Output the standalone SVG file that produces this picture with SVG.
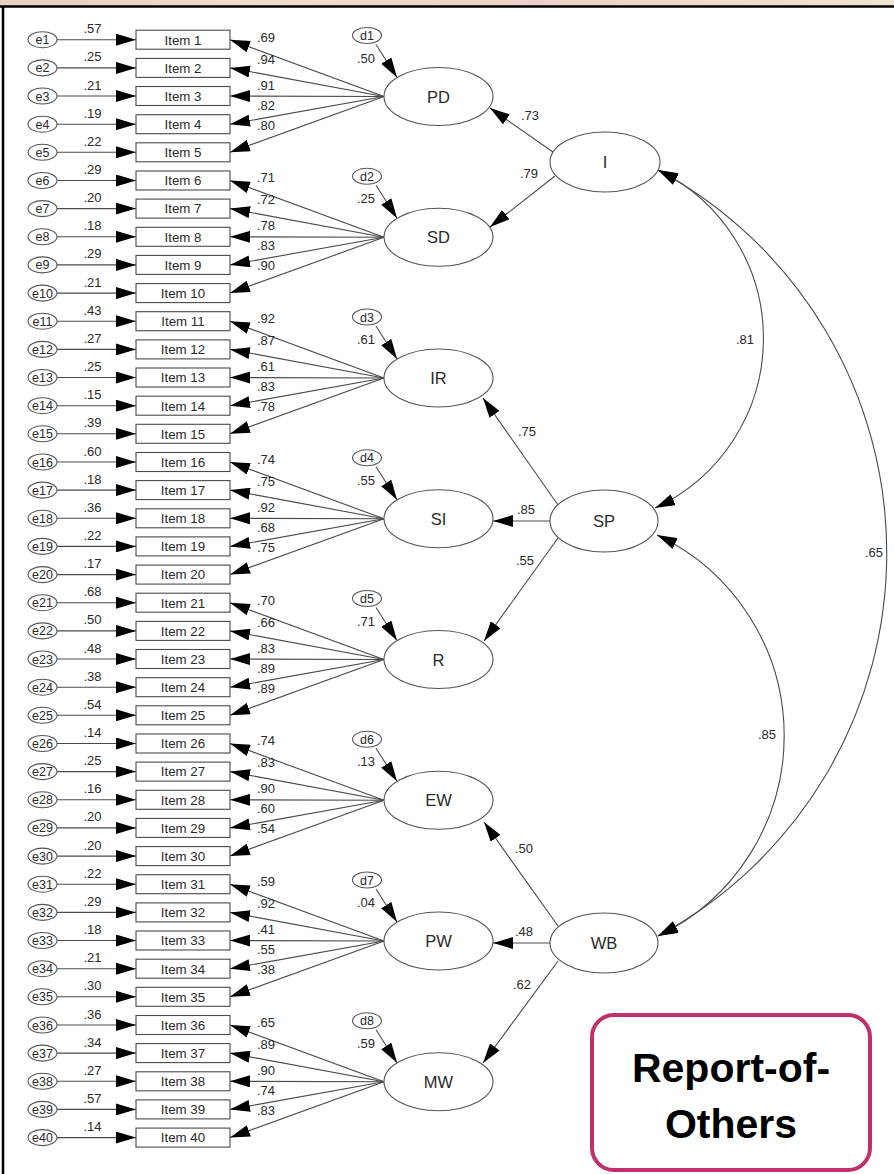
<svg xmlns="http://www.w3.org/2000/svg" width="894" height="1174" viewBox="0 0 894 1174">
<defs>
<marker id="ah" viewBox="0 0 20 12" refX="20" refY="6" markerWidth="20" markerHeight="12" markerUnits="userSpaceOnUse" orient="auto-start-reverse"><path d="M0,0L20,6L0,12z" fill="#000"/></marker>
<linearGradient id="top" x1="0" y1="0" x2="1" y2="0">
<stop offset="0" stop-color="#e9cfc4"/><stop offset="0.3" stop-color="#f0dccd"/><stop offset="0.6" stop-color="#ecd2c8"/><stop offset="1" stop-color="#f1e2d2"/>
</linearGradient>
<style>
.ln{stroke:#4a4a4a;stroke-width:1.1;fill:none}
.arr{marker-end:url(#ah)}
.cov{marker-start:url(#ah);marker-end:url(#ah)}
.box{fill:#fff;stroke:#4a4a4a;stroke-width:1.1}
.ov{fill:#fff;stroke:#555;stroke-width:1.1}
.t{font-family:"Liberation Sans",Arial,sans-serif;fill:#2a2a2a}
.it{font-size:13.3px;text-anchor:middle}
.sm{font-size:12.5px;text-anchor:middle}
.num{font-size:13px}
.mid{text-anchor:middle}
.lat{font-size:16.5px;text-anchor:middle}
.rep{font-family:"Liberation Sans",Arial,sans-serif;font-weight:bold;font-size:41px;text-anchor:middle;fill:#000}
</style>
</defs>
<rect x="0" y="0" width="894" height="1174" fill="#fff"/>
<rect x="0" y="0" width="894" height="6" fill="url(#top)"/>
<line x1="0" y1="6.5" x2="894" y2="6.5" stroke="#000" stroke-width="2.5"/>
<line x1="3" y1="6" x2="3" y2="1174" stroke="#000" stroke-width="2.5"/>

<g id="connectors">
<line class="ln arr" x1="57" y1="39.7" x2="136" y2="39.7"/>
<line class="ln arr" x1="57" y1="67.9" x2="136" y2="67.9"/>
<line class="ln arr" x1="57" y1="96" x2="136" y2="96"/>
<line class="ln arr" x1="57" y1="124.2" x2="136" y2="124.2"/>
<line class="ln arr" x1="57" y1="152.3" x2="136" y2="152.3"/>
<line class="ln arr" x1="57" y1="180.5" x2="136" y2="180.5"/>
<line class="ln arr" x1="57" y1="208.6" x2="136" y2="208.6"/>
<line class="ln arr" x1="57" y1="236.8" x2="136" y2="236.8"/>
<line class="ln arr" x1="57" y1="264.9" x2="136" y2="264.9"/>
<line class="ln arr" x1="57" y1="293.1" x2="136" y2="293.1"/>
<line class="ln arr" x1="57" y1="321.2" x2="136" y2="321.2"/>
<line class="ln arr" x1="57" y1="349.4" x2="136" y2="349.4"/>
<line class="ln arr" x1="57" y1="377.5" x2="136" y2="377.5"/>
<line class="ln arr" x1="57" y1="405.7" x2="136" y2="405.7"/>
<line class="ln arr" x1="57" y1="433.8" x2="136" y2="433.8"/>
<line class="ln arr" x1="57" y1="462" x2="136" y2="462"/>
<line class="ln arr" x1="57" y1="490.1" x2="136" y2="490.1"/>
<line class="ln arr" x1="57" y1="518.3" x2="136" y2="518.3"/>
<line class="ln arr" x1="57" y1="546.4" x2="136" y2="546.4"/>
<line class="ln arr" x1="57" y1="574.6" x2="136" y2="574.6"/>
<line class="ln arr" x1="57" y1="602.7" x2="136" y2="602.7"/>
<line class="ln arr" x1="57" y1="630.9" x2="136" y2="630.9"/>
<line class="ln arr" x1="57" y1="659" x2="136" y2="659"/>
<line class="ln arr" x1="57" y1="687.2" x2="136" y2="687.2"/>
<line class="ln arr" x1="57" y1="715.3" x2="136" y2="715.3"/>
<line class="ln arr" x1="57" y1="743.5" x2="136" y2="743.5"/>
<line class="ln arr" x1="57" y1="771.6" x2="136" y2="771.6"/>
<line class="ln arr" x1="57" y1="799.8" x2="136" y2="799.8"/>
<line class="ln arr" x1="57" y1="827.9" x2="136" y2="827.9"/>
<line class="ln arr" x1="57" y1="856.1" x2="136" y2="856.1"/>
<line class="ln arr" x1="57" y1="884.2" x2="136" y2="884.2"/>
<line class="ln arr" x1="57" y1="912.4" x2="136" y2="912.4"/>
<line class="ln arr" x1="57" y1="940.5" x2="136" y2="940.5"/>
<line class="ln arr" x1="57" y1="968.7" x2="136" y2="968.7"/>
<line class="ln arr" x1="57" y1="996.8" x2="136" y2="996.8"/>
<line class="ln arr" x1="57" y1="1025" x2="136" y2="1025"/>
<line class="ln arr" x1="57" y1="1053.1" x2="136" y2="1053.1"/>
<line class="ln arr" x1="57" y1="1081.3" x2="136" y2="1081.3"/>
<line class="ln arr" x1="57" y1="1109.4" x2="136" y2="1109.4"/>
<line class="ln arr" x1="57" y1="1137.6" x2="136" y2="1137.6"/>
<g class="t num mid">
<text x="92.5" y="33.2">.57</text><text x="92.5" y="61.4">.25</text><text x="92.5" y="89.5">.21</text><text x="92.5" y="117.7">.19</text><text x="92.5" y="145.8">.22</text>
<text x="92.5" y="174">.29</text><text x="92.5" y="202.1">.20</text><text x="92.5" y="230.3">.18</text><text x="92.5" y="258.4">.29</text><text x="92.5" y="286.6">.21</text>
<text x="92.5" y="314.7">.43</text><text x="92.5" y="342.9">.27</text><text x="92.5" y="371">.25</text><text x="92.5" y="399.2">.15</text><text x="92.5" y="427.3">.39</text>
<text x="92.5" y="455.5">.60</text><text x="92.5" y="483.6">.18</text><text x="92.5" y="511.8">.36</text><text x="92.5" y="539.9">.22</text><text x="92.5" y="568.1">.17</text>
<text x="92.5" y="596.2">.68</text><text x="92.5" y="624.4">.50</text><text x="92.5" y="652.5">.48</text><text x="92.5" y="680.7">.38</text><text x="92.5" y="708.8">.54</text>
<text x="92.5" y="737">.14</text><text x="92.5" y="765.1">.25</text><text x="92.5" y="793.3">.16</text><text x="92.5" y="821.4">.20</text><text x="92.5" y="849.6">.20</text>
<text x="92.5" y="877.7">.22</text><text x="92.5" y="905.9">.29</text><text x="92.5" y="934">.18</text><text x="92.5" y="962.2">.21</text><text x="92.5" y="990.3">.30</text>
<text x="92.5" y="1018.5">.36</text><text x="92.5" y="1046.6">.34</text><text x="92.5" y="1074.8">.27</text><text x="92.5" y="1102.9">.57</text><text x="92.5" y="1131.1">.14</text>
</g>
<line class="ln arr" x1="384" y1="96.5" x2="230" y2="39.7"/>
<line class="ln arr" x1="384" y1="96.5" x2="230" y2="67.9"/>
<line class="ln arr" x1="384" y1="96.5" x2="230" y2="96"/>
<line class="ln arr" x1="384" y1="96.5" x2="230" y2="124.2"/>
<line class="ln arr" x1="384" y1="96.5" x2="230" y2="152.3"/>
<line class="ln arr" x1="384" y1="237.3" x2="230" y2="180.5"/>
<line class="ln arr" x1="384" y1="237.3" x2="230" y2="208.6"/>
<line class="ln arr" x1="384" y1="237.3" x2="230" y2="236.8"/>
<line class="ln arr" x1="384" y1="237.3" x2="230" y2="264.9"/>
<line class="ln arr" x1="384" y1="237.3" x2="230" y2="293.1"/>
<line class="ln arr" x1="384" y1="378" x2="230" y2="321.2"/>
<line class="ln arr" x1="384" y1="378" x2="230" y2="349.4"/>
<line class="ln arr" x1="384" y1="378" x2="230" y2="377.5"/>
<line class="ln arr" x1="384" y1="378" x2="230" y2="405.7"/>
<line class="ln arr" x1="384" y1="378" x2="230" y2="433.8"/>
<line class="ln arr" x1="384" y1="518.8" x2="230" y2="462"/>
<line class="ln arr" x1="384" y1="518.8" x2="230" y2="490.1"/>
<line class="ln arr" x1="384" y1="518.8" x2="230" y2="518.3"/>
<line class="ln arr" x1="384" y1="518.8" x2="230" y2="546.4"/>
<line class="ln arr" x1="384" y1="518.8" x2="230" y2="574.6"/>
<line class="ln arr" x1="384" y1="659.5" x2="230" y2="602.7"/>
<line class="ln arr" x1="384" y1="659.5" x2="230" y2="630.9"/>
<line class="ln arr" x1="384" y1="659.5" x2="230" y2="659"/>
<line class="ln arr" x1="384" y1="659.5" x2="230" y2="687.2"/>
<line class="ln arr" x1="384" y1="659.5" x2="230" y2="715.3"/>
<line class="ln arr" x1="384" y1="800.3" x2="230" y2="743.5"/>
<line class="ln arr" x1="384" y1="800.3" x2="230" y2="771.6"/>
<line class="ln arr" x1="384" y1="800.3" x2="230" y2="799.8"/>
<line class="ln arr" x1="384" y1="800.3" x2="230" y2="827.9"/>
<line class="ln arr" x1="384" y1="800.3" x2="230" y2="856.1"/>
<line class="ln arr" x1="384" y1="941" x2="230" y2="884.2"/>
<line class="ln arr" x1="384" y1="941" x2="230" y2="912.4"/>
<line class="ln arr" x1="384" y1="941" x2="230" y2="940.5"/>
<line class="ln arr" x1="384" y1="941" x2="230" y2="968.7"/>
<line class="ln arr" x1="384" y1="941" x2="230" y2="996.8"/>
<line class="ln arr" x1="384" y1="1081.8" x2="230" y2="1025"/>
<line class="ln arr" x1="384" y1="1081.8" x2="230" y2="1053.1"/>
<line class="ln arr" x1="384" y1="1081.8" x2="230" y2="1081.3"/>
<line class="ln arr" x1="384" y1="1081.8" x2="230" y2="1109.4"/>
<line class="ln arr" x1="384" y1="1081.8" x2="230" y2="1137.6"/>
<g class="t num">
<text x="257" y="41.5">.69</text><text x="257" y="63.5">.94</text><text x="257" y="89.5">.91</text><text x="257" y="109.5">.82</text><text x="257" y="129.5">.80</text>
<text x="257" y="182.3">.71</text><text x="257" y="204.3">.72</text><text x="257" y="230.3">.78</text><text x="257" y="250.3">.83</text><text x="257" y="270.3">.90</text>
<text x="257" y="323">.92</text><text x="257" y="345">.87</text><text x="257" y="371">.61</text><text x="257" y="391">.83</text><text x="257" y="411">.78</text>
<text x="257" y="463.8">.74</text><text x="257" y="485.8">.75</text><text x="257" y="511.8">.92</text><text x="257" y="531.8">.68</text><text x="257" y="551.8">.75</text>
<text x="257" y="604.5">.70</text><text x="257" y="626.5">.66</text><text x="257" y="652.5">.83</text><text x="257" y="672.5">.89</text><text x="257" y="692.5">.89</text>
<text x="257" y="745.3">.74</text><text x="257" y="767.3">.83</text><text x="257" y="793.3">.90</text><text x="257" y="813.3">.60</text><text x="257" y="833.3">.54</text>
<text x="257" y="886">.59</text><text x="257" y="908">.92</text><text x="257" y="934">.41</text><text x="257" y="954">.55</text><text x="257" y="974">.38</text>
<text x="257" y="1026.8">.65</text><text x="257" y="1048.8">.89</text><text x="257" y="1074.8">.90</text><text x="257" y="1094.8">.74</text><text x="257" y="1114.8">.83</text>
</g>
<line class="ln arr" x1="376" y1="44.5" x2="397" y2="77.5"/>
<line class="ln arr" x1="376" y1="185.3" x2="397" y2="218.3"/>
<line class="ln arr" x1="376" y1="326" x2="397" y2="359"/>
<line class="ln arr" x1="376" y1="466.8" x2="397" y2="499.8"/>
<line class="ln arr" x1="376" y1="607.5" x2="397" y2="640.5"/>
<line class="ln arr" x1="376" y1="748.3" x2="397" y2="781.3"/>
<line class="ln arr" x1="376" y1="889" x2="397" y2="922"/>
<line class="ln arr" x1="376" y1="1029.8" x2="397" y2="1062.8"/>
<g class="t num mid">
<text x="366" y="62.5">.50</text><text x="366" y="203.3">.25</text><text x="366" y="344">.61</text><text x="366" y="484.8">.55</text>
<text x="366" y="625.5">.71</text><text x="366" y="766.3">.13</text><text x="366" y="907">.04</text><text x="366" y="1047.8">.59</text>
</g>
<line class="ln arr" x1="553" y1="152" x2="490" y2="108"/>
<line class="ln arr" x1="555" y1="176" x2="490" y2="227"/>
<line class="ln arr" x1="558" y1="505" x2="483" y2="398"/>
<line class="ln arr" x1="550" y1="521" x2="493" y2="521"/>
<line class="ln arr" x1="558" y1="538" x2="484" y2="641"/>
<line class="ln arr" x1="558" y1="926" x2="484" y2="822"/>
<line class="ln arr" x1="550" y1="943" x2="493" y2="943"/>
<line class="ln arr" x1="558" y1="961" x2="483" y2="1063"/>
<g class="t num mid">
<text x="530" y="120">.73</text><text x="529" y="178">.79</text>
<text x="527" y="436">.75</text><text x="526" y="514">.85</text><text x="525" y="565">.55</text>
<text x="524" y="853">.50</text><text x="524" y="936">.48</text><text x="522" y="989">.62</text>
</g>
<path class="ln cov" d="M658,170 A187,187 0 0 1 655,508"/>
<path class="ln cov" d="M658,170 A435,435 0 0 1 658,936"/>
<path class="ln cov" d="M657,535 A222,222 0 0 1 658,936"/>
<g class="t num mid">
<text x="745" y="344">.81</text><text x="874" y="557">.65</text><text x="767" y="739">.85</text>
</g>
</g>

<g id="e1"><ellipse class="ov" cx="42.5" cy="39.7" rx="14.5" ry="8"/><text class="t sm" x="42.5" y="44.2">e1</text></g>
<g id="e2"><ellipse class="ov" cx="42.5" cy="67.9" rx="14.5" ry="8"/><text class="t sm" x="42.5" y="72.4">e2</text></g>
<g id="e3"><ellipse class="ov" cx="42.5" cy="96" rx="14.5" ry="8"/><text class="t sm" x="42.5" y="100.5">e3</text></g>
<g id="e4"><ellipse class="ov" cx="42.5" cy="124.2" rx="14.5" ry="8"/><text class="t sm" x="42.5" y="128.7">e4</text></g>
<g id="e5"><ellipse class="ov" cx="42.5" cy="152.3" rx="14.5" ry="8"/><text class="t sm" x="42.5" y="156.8">e5</text></g>
<g id="e6"><ellipse class="ov" cx="42.5" cy="180.5" rx="14.5" ry="8"/><text class="t sm" x="42.5" y="185">e6</text></g>
<g id="e7"><ellipse class="ov" cx="42.5" cy="208.6" rx="14.5" ry="8"/><text class="t sm" x="42.5" y="213.1">e7</text></g>
<g id="e8"><ellipse class="ov" cx="42.5" cy="236.8" rx="14.5" ry="8"/><text class="t sm" x="42.5" y="241.3">e8</text></g>
<g id="e9"><ellipse class="ov" cx="42.5" cy="264.9" rx="14.5" ry="8"/><text class="t sm" x="42.5" y="269.4">e9</text></g>
<g id="e10"><ellipse class="ov" cx="42.5" cy="293.1" rx="14.5" ry="8"/><text class="t sm" x="42.5" y="297.6">e10</text></g>
<g id="e11"><ellipse class="ov" cx="42.5" cy="321.2" rx="14.5" ry="8"/><text class="t sm" x="42.5" y="325.7">e11</text></g>
<g id="e12"><ellipse class="ov" cx="42.5" cy="349.4" rx="14.5" ry="8"/><text class="t sm" x="42.5" y="353.9">e12</text></g>
<g id="e13"><ellipse class="ov" cx="42.5" cy="377.5" rx="14.5" ry="8"/><text class="t sm" x="42.5" y="382">e13</text></g>
<g id="e14"><ellipse class="ov" cx="42.5" cy="405.7" rx="14.5" ry="8"/><text class="t sm" x="42.5" y="410.2">e14</text></g>
<g id="e15"><ellipse class="ov" cx="42.5" cy="433.8" rx="14.5" ry="8"/><text class="t sm" x="42.5" y="438.3">e15</text></g>
<g id="e16"><ellipse class="ov" cx="42.5" cy="462" rx="14.5" ry="8"/><text class="t sm" x="42.5" y="466.5">e16</text></g>
<g id="e17"><ellipse class="ov" cx="42.5" cy="490.1" rx="14.5" ry="8"/><text class="t sm" x="42.5" y="494.6">e17</text></g>
<g id="e18"><ellipse class="ov" cx="42.5" cy="518.3" rx="14.5" ry="8"/><text class="t sm" x="42.5" y="522.8">e18</text></g>
<g id="e19"><ellipse class="ov" cx="42.5" cy="546.4" rx="14.5" ry="8"/><text class="t sm" x="42.5" y="550.9">e19</text></g>
<g id="e20"><ellipse class="ov" cx="42.5" cy="574.6" rx="14.5" ry="8"/><text class="t sm" x="42.5" y="579.1">e20</text></g>
<g id="e21"><ellipse class="ov" cx="42.5" cy="602.7" rx="14.5" ry="8"/><text class="t sm" x="42.5" y="607.2">e21</text></g>
<g id="e22"><ellipse class="ov" cx="42.5" cy="630.9" rx="14.5" ry="8"/><text class="t sm" x="42.5" y="635.4">e22</text></g>
<g id="e23"><ellipse class="ov" cx="42.5" cy="659" rx="14.5" ry="8"/><text class="t sm" x="42.5" y="663.5">e23</text></g>
<g id="e24"><ellipse class="ov" cx="42.5" cy="687.2" rx="14.5" ry="8"/><text class="t sm" x="42.5" y="691.7">e24</text></g>
<g id="e25"><ellipse class="ov" cx="42.5" cy="715.3" rx="14.5" ry="8"/><text class="t sm" x="42.5" y="719.8">e25</text></g>
<g id="e26"><ellipse class="ov" cx="42.5" cy="743.5" rx="14.5" ry="8"/><text class="t sm" x="42.5" y="748">e26</text></g>
<g id="e27"><ellipse class="ov" cx="42.5" cy="771.6" rx="14.5" ry="8"/><text class="t sm" x="42.5" y="776.1">e27</text></g>
<g id="e28"><ellipse class="ov" cx="42.5" cy="799.8" rx="14.5" ry="8"/><text class="t sm" x="42.5" y="804.3">e28</text></g>
<g id="e29"><ellipse class="ov" cx="42.5" cy="827.9" rx="14.5" ry="8"/><text class="t sm" x="42.5" y="832.4">e29</text></g>
<g id="e30"><ellipse class="ov" cx="42.5" cy="856.1" rx="14.5" ry="8"/><text class="t sm" x="42.5" y="860.6">e30</text></g>
<g id="e31"><ellipse class="ov" cx="42.5" cy="884.2" rx="14.5" ry="8"/><text class="t sm" x="42.5" y="888.7">e31</text></g>
<g id="e32"><ellipse class="ov" cx="42.5" cy="912.4" rx="14.5" ry="8"/><text class="t sm" x="42.5" y="916.9">e32</text></g>
<g id="e33"><ellipse class="ov" cx="42.5" cy="940.5" rx="14.5" ry="8"/><text class="t sm" x="42.5" y="945">e33</text></g>
<g id="e34"><ellipse class="ov" cx="42.5" cy="968.7" rx="14.5" ry="8"/><text class="t sm" x="42.5" y="973.2">e34</text></g>
<g id="e35"><ellipse class="ov" cx="42.5" cy="996.8" rx="14.5" ry="8"/><text class="t sm" x="42.5" y="1001.3">e35</text></g>
<g id="e36"><ellipse class="ov" cx="42.5" cy="1025" rx="14.5" ry="8"/><text class="t sm" x="42.5" y="1029.5">e36</text></g>
<g id="e37"><ellipse class="ov" cx="42.5" cy="1053.1" rx="14.5" ry="8"/><text class="t sm" x="42.5" y="1057.6">e37</text></g>
<g id="e38"><ellipse class="ov" cx="42.5" cy="1081.3" rx="14.5" ry="8"/><text class="t sm" x="42.5" y="1085.8">e38</text></g>
<g id="e39"><ellipse class="ov" cx="42.5" cy="1109.4" rx="14.5" ry="8"/><text class="t sm" x="42.5" y="1113.9">e39</text></g>
<g id="e40"><ellipse class="ov" cx="42.5" cy="1137.6" rx="14.5" ry="8"/><text class="t sm" x="42.5" y="1142.1">e40</text></g>

<g id="item1"><rect class="box" x="136" y="30.2" width="94" height="19"/><text class="t it" x="183" y="44.5">Item 1</text></g>
<g id="item2"><rect class="box" x="136" y="58.4" width="94" height="19"/><text class="t it" x="183" y="72.7">Item 2</text></g>
<g id="item3"><rect class="box" x="136" y="86.5" width="94" height="19"/><text class="t it" x="183" y="100.8">Item 3</text></g>
<g id="item4"><rect class="box" x="136" y="114.7" width="94" height="19"/><text class="t it" x="183" y="129">Item 4</text></g>
<g id="item5"><rect class="box" x="136" y="142.8" width="94" height="19"/><text class="t it" x="183" y="157.1">Item 5</text></g>
<g id="item6"><rect class="box" x="136" y="171" width="94" height="19"/><text class="t it" x="183" y="185.3">Item 6</text></g>
<g id="item7"><rect class="box" x="136" y="199.1" width="94" height="19"/><text class="t it" x="183" y="213.4">Item 7</text></g>
<g id="item8"><rect class="box" x="136" y="227.3" width="94" height="19"/><text class="t it" x="183" y="241.6">Item 8</text></g>
<g id="item9"><rect class="box" x="136" y="255.4" width="94" height="19"/><text class="t it" x="183" y="269.7">Item 9</text></g>
<g id="item10"><rect class="box" x="136" y="283.6" width="94" height="19"/><text class="t it" x="183" y="297.9">Item 10</text></g>
<g id="item11"><rect class="box" x="136" y="311.7" width="94" height="19"/><text class="t it" x="183" y="326">Item 11</text></g>
<g id="item12"><rect class="box" x="136" y="339.9" width="94" height="19"/><text class="t it" x="183" y="354.2">Item 12</text></g>
<g id="item13"><rect class="box" x="136" y="368" width="94" height="19"/><text class="t it" x="183" y="382.3">Item 13</text></g>
<g id="item14"><rect class="box" x="136" y="396.2" width="94" height="19"/><text class="t it" x="183" y="410.5">Item 14</text></g>
<g id="item15"><rect class="box" x="136" y="424.3" width="94" height="19"/><text class="t it" x="183" y="438.6">Item 15</text></g>
<g id="item16"><rect class="box" x="136" y="452.5" width="94" height="19"/><text class="t it" x="183" y="466.8">Item 16</text></g>
<g id="item17"><rect class="box" x="136" y="480.6" width="94" height="19"/><text class="t it" x="183" y="494.9">Item 17</text></g>
<g id="item18"><rect class="box" x="136" y="508.8" width="94" height="19"/><text class="t it" x="183" y="523.1">Item 18</text></g>
<g id="item19"><rect class="box" x="136" y="536.9" width="94" height="19"/><text class="t it" x="183" y="551.2">Item 19</text></g>
<g id="item20"><rect class="box" x="136" y="565.1" width="94" height="19"/><text class="t it" x="183" y="579.4">Item 20</text></g>
<g id="item21"><rect class="box" x="136" y="593.2" width="94" height="19"/><text class="t it" x="183" y="607.5">Item 21</text></g>
<g id="item22"><rect class="box" x="136" y="621.4" width="94" height="19"/><text class="t it" x="183" y="635.7">Item 22</text></g>
<g id="item23"><rect class="box" x="136" y="649.5" width="94" height="19"/><text class="t it" x="183" y="663.8">Item 23</text></g>
<g id="item24"><rect class="box" x="136" y="677.7" width="94" height="19"/><text class="t it" x="183" y="692">Item 24</text></g>
<g id="item25"><rect class="box" x="136" y="705.8" width="94" height="19"/><text class="t it" x="183" y="720.1">Item 25</text></g>
<g id="item26"><rect class="box" x="136" y="734" width="94" height="19"/><text class="t it" x="183" y="748.3">Item 26</text></g>
<g id="item27"><rect class="box" x="136" y="762.1" width="94" height="19"/><text class="t it" x="183" y="776.4">Item 27</text></g>
<g id="item28"><rect class="box" x="136" y="790.3" width="94" height="19"/><text class="t it" x="183" y="804.6">Item 28</text></g>
<g id="item29"><rect class="box" x="136" y="818.4" width="94" height="19"/><text class="t it" x="183" y="832.7">Item 29</text></g>
<g id="item30"><rect class="box" x="136" y="846.6" width="94" height="19"/><text class="t it" x="183" y="860.9">Item 30</text></g>
<g id="item31"><rect class="box" x="136" y="874.7" width="94" height="19"/><text class="t it" x="183" y="889">Item 31</text></g>
<g id="item32"><rect class="box" x="136" y="902.9" width="94" height="19"/><text class="t it" x="183" y="917.2">Item 32</text></g>
<g id="item33"><rect class="box" x="136" y="931" width="94" height="19"/><text class="t it" x="183" y="945.3">Item 33</text></g>
<g id="item34"><rect class="box" x="136" y="959.2" width="94" height="19"/><text class="t it" x="183" y="973.5">Item 34</text></g>
<g id="item35"><rect class="box" x="136" y="987.3" width="94" height="19"/><text class="t it" x="183" y="1001.6">Item 35</text></g>
<g id="item36"><rect class="box" x="136" y="1015.5" width="94" height="19"/><text class="t it" x="183" y="1029.8">Item 36</text></g>
<g id="item37"><rect class="box" x="136" y="1043.6" width="94" height="19"/><text class="t it" x="183" y="1057.9">Item 37</text></g>
<g id="item38"><rect class="box" x="136" y="1071.8" width="94" height="19"/><text class="t it" x="183" y="1086.1">Item 38</text></g>
<g id="item39"><rect class="box" x="136" y="1099.9" width="94" height="19"/><text class="t it" x="183" y="1114.2">Item 39</text></g>
<g id="item40"><rect class="box" x="136" y="1128.1" width="94" height="19"/><text class="t it" x="183" y="1142.4">Item 40</text></g>

<g id="d1"><ellipse class="ov" cx="367" cy="35.5" rx="14.5" ry="8"/><text class="t sm" x="367" y="40">d1</text></g>
<g id="d2"><ellipse class="ov" cx="367" cy="176.3" rx="14.5" ry="8"/><text class="t sm" x="367" y="180.8">d2</text></g>
<g id="d3"><ellipse class="ov" cx="367" cy="317" rx="14.5" ry="8"/><text class="t sm" x="367" y="321.5">d3</text></g>
<g id="d4"><ellipse class="ov" cx="367" cy="457.8" rx="14.5" ry="8"/><text class="t sm" x="367" y="462.3">d4</text></g>
<g id="d5"><ellipse class="ov" cx="367" cy="598.5" rx="14.5" ry="8"/><text class="t sm" x="367" y="603">d5</text></g>
<g id="d6"><ellipse class="ov" cx="367" cy="739.3" rx="14.5" ry="8"/><text class="t sm" x="367" y="743.8">d6</text></g>
<g id="d7"><ellipse class="ov" cx="367" cy="880" rx="14.5" ry="8"/><text class="t sm" x="367" y="884.5">d7</text></g>
<g id="d8"><ellipse class="ov" cx="367" cy="1020.8" rx="14.5" ry="8"/><text class="t sm" x="367" y="1025.3">d8</text></g>

<g id="PD"><ellipse class="ov" cx="438.5" cy="96.5" rx="54.5" ry="29"/><text class="t lat" x="438.5" y="102.5">PD</text></g>
<g id="SD"><ellipse class="ov" cx="438.5" cy="237.3" rx="54.5" ry="29"/><text class="t lat" x="438.5" y="243.3">SD</text></g>
<g id="IR"><ellipse class="ov" cx="438.5" cy="378" rx="54.5" ry="29"/><text class="t lat" x="438.5" y="384">IR</text></g>
<g id="SI"><ellipse class="ov" cx="438.5" cy="518.8" rx="54.5" ry="29"/><text class="t lat" x="438.5" y="524.8">SI</text></g>
<g id="R"><ellipse class="ov" cx="438.5" cy="659.5" rx="54.5" ry="29"/><text class="t lat" x="438.5" y="665.5">R</text></g>
<g id="EW"><ellipse class="ov" cx="438.5" cy="800.3" rx="54.5" ry="29"/><text class="t lat" x="438.5" y="806.3">EW</text></g>
<g id="PW"><ellipse class="ov" cx="438.5" cy="941" rx="54.5" ry="29"/><text class="t lat" x="438.5" y="947">PW</text></g>
<g id="MW"><ellipse class="ov" cx="438.5" cy="1081.8" rx="54.5" ry="29"/><text class="t lat" x="438.5" y="1087.8">MW</text></g>

<g id="I"><ellipse class="ov" cx="605" cy="162" rx="55" ry="30"/><text class="t lat" x="605" y="168">I</text></g>
<g id="SP"><ellipse class="ov" cx="604" cy="521" rx="54" ry="31"/><text class="t lat" x="604" y="527">SP</text></g>
<g id="WB"><ellipse class="ov" cx="604" cy="943" rx="54" ry="30"/><text class="t lat" x="604" y="949">WB</text></g>

<g id="report">
<rect x="592" y="1015" width="278" height="155" rx="22" ry="22" fill="#fff" stroke="#C0306A" stroke-width="4"/>
<text class="rep" x="731" y="1082">Report-of-</text>
<text class="rep" x="731" y="1138">Others</text>
</g>
</svg>
